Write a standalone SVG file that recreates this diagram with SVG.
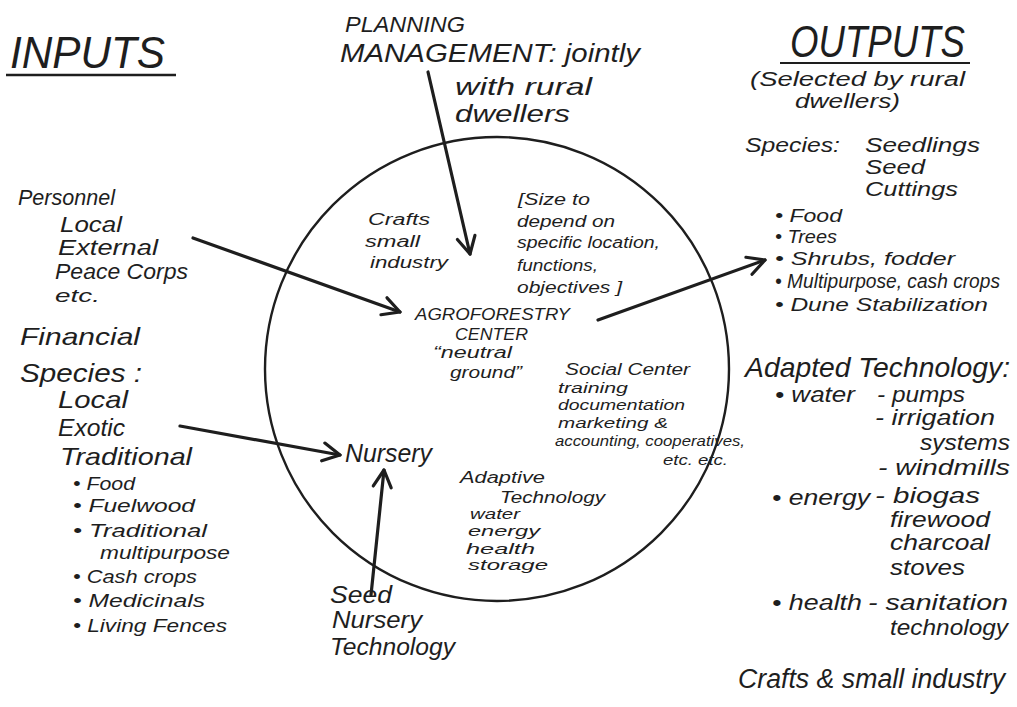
<svg xmlns="http://www.w3.org/2000/svg" width="1017" height="707" viewBox="0 0 1017 707">
<style>
text{font-family:"Liberation Sans","DejaVu Sans",sans-serif;font-style:italic;fill:#1e1e1e}
.h{font-size:44px}
.l{font-size:22px}
.r{font-size:20px}
.m{font-size:18px}
.s{font-size:16px}
.xs{font-size:14.5px}
.ln{stroke:#1e1e1e;stroke-width:3.2;fill:none;stroke-linecap:round}
</style>
<defs>
<marker id="ah" markerUnits="userSpaceOnUse" markerWidth="26" markerHeight="26" refX="20" refY="11" orient="auto">
<path d="M3,2 L20,11 L3,20" fill="none" stroke="#1e1e1e" stroke-width="3.2" stroke-linecap="round" stroke-linejoin="round"/>
</marker>
</defs>
<rect width="1017" height="707" fill="#fff"/>
<g id="center-circle">
<circle cx="497" cy="369" r="232" fill="none" stroke="#1e1e1e" stroke-width="2.4"/>
</g>
<g id="connectors">
<line class="ln" x1="428" y1="72" x2="470" y2="254" marker-end="url(#ah)"/>
<line class="ln" x1="193" y1="238" x2="400" y2="312" marker-end="url(#ah)"/>
<line class="ln" x1="598" y1="320" x2="765" y2="260" marker-end="url(#ah)"/>
<line class="ln" x1="180" y1="426" x2="340" y2="455" marker-end="url(#ah)"/>
<line class="ln" x1="371" y1="595" x2="384" y2="470" marker-end="url(#ah)"/>
</g>
<g id="inputs">
<text class="h" x="10" y="68" textLength="155" lengthAdjust="spacingAndGlyphs">INPUTS</text>
<line x1="6" y1="75" x2="176" y2="75" stroke="#1e1e1e" stroke-width="2.5"/>
<text class="l" x="18" y="205" textLength="97" lengthAdjust="spacingAndGlyphs">Personnel</text>
<text class="l" x="60" y="232" textLength="62" lengthAdjust="spacingAndGlyphs">Local</text>
<text class="l" x="58" y="255" textLength="100" lengthAdjust="spacingAndGlyphs">External</text>
<text class="l" x="55" y="279" textLength="133" lengthAdjust="spacingAndGlyphs">Peace Corps</text>
<text class="m" x="55" y="302" textLength="45" lengthAdjust="spacingAndGlyphs">etc.</text>
<text class="l" x="20" y="345" textLength="120" lengthAdjust="spacingAndGlyphs" style="font-size:24px">Financial</text>
<text class="l" x="20" y="382" textLength="122" lengthAdjust="spacingAndGlyphs" style="font-size:26px">Species :</text>
<text class="l" x="58" y="408" textLength="70" lengthAdjust="spacingAndGlyphs" style="font-size:24px">Local</text>
<text class="l" x="58" y="436" textLength="67" lengthAdjust="spacingAndGlyphs" style="font-size:24px">Exotic</text>
<text class="l" x="60" y="465" textLength="132" lengthAdjust="spacingAndGlyphs" style="font-size:24px">Traditional</text>
<text class="m" x="73" y="490" textLength="62" lengthAdjust="spacingAndGlyphs">• Food</text>
<text class="m" x="73" y="512" textLength="122" lengthAdjust="spacingAndGlyphs">• Fuelwood</text>
<text class="m" x="73" y="537" textLength="134" lengthAdjust="spacingAndGlyphs">• Traditional</text>
<text class="m" x="100" y="559" textLength="130" lengthAdjust="spacingAndGlyphs">multipurpose</text>
<text class="m" x="73" y="583" textLength="124" lengthAdjust="spacingAndGlyphs">• Cash crops</text>
<text class="m" x="73" y="607" textLength="132" lengthAdjust="spacingAndGlyphs">• Medicinals</text>
<text class="m" x="73" y="632" textLength="154" lengthAdjust="spacingAndGlyphs">• Living Fences</text>
</g>
<g id="planning">
<text class="l" x="345" y="32" textLength="120" lengthAdjust="spacingAndGlyphs">PLANNING</text>
<text class="l" x="340" y="62" textLength="300" lengthAdjust="spacingAndGlyphs" style="font-size:25px">MANAGEMENT: jointly</text>
<text class="l" x="455" y="95" textLength="137" lengthAdjust="spacingAndGlyphs" style="font-size:24px">with rural</text>
<text class="l" x="455" y="122" textLength="115" lengthAdjust="spacingAndGlyphs" style="font-size:24px">dwellers</text>
</g>
<g id="agroforestry-center">
<text class="s" x="368" y="225" textLength="62" lengthAdjust="spacingAndGlyphs">Crafts</text>
<text class="s" x="365" y="247" textLength="55" lengthAdjust="spacingAndGlyphs">small</text>
<text class="s" x="370" y="268" textLength="78" lengthAdjust="spacingAndGlyphs">industry</text>
<text class="s" x="518" y="205" textLength="72" lengthAdjust="spacingAndGlyphs">[Size to</text>
<text class="s" x="517" y="227" textLength="98" lengthAdjust="spacingAndGlyphs">depend on</text>
<text class="s" x="517" y="248" textLength="143" lengthAdjust="spacingAndGlyphs">specific location,</text>
<text class="s" x="517" y="271" textLength="81" lengthAdjust="spacingAndGlyphs">functions,</text>
<text class="s" x="517" y="293" textLength="105" lengthAdjust="spacingAndGlyphs">objectives ]</text>
<text class="s" x="415" y="320" textLength="155" lengthAdjust="spacingAndGlyphs">AGROFORESTRY</text>
<text class="s" x="455" y="340" textLength="73" lengthAdjust="spacingAndGlyphs">CENTER</text>
<text class="s" x="433" y="358" textLength="79" lengthAdjust="spacingAndGlyphs">“neutral</text>
<text class="s" x="450" y="378" textLength="72" lengthAdjust="spacingAndGlyphs">ground”</text>
</g>
<g id="social-center">
<text class="s" x="565" y="375" textLength="125" lengthAdjust="spacingAndGlyphs">Social Center</text>
<text class="xs" x="558" y="393" textLength="70" lengthAdjust="spacingAndGlyphs">training</text>
<text class="xs" x="558" y="410" textLength="127" lengthAdjust="spacingAndGlyphs">documentation</text>
<text class="xs" x="558" y="428" textLength="110" lengthAdjust="spacingAndGlyphs">marketing &amp;</text>
<text class="xs" x="555" y="446" textLength="190" lengthAdjust="spacingAndGlyphs">accounting, cooperatives,</text>
<text class="xs" x="663" y="465" textLength="65" lengthAdjust="spacingAndGlyphs">etc. etc.</text>
</g>
<g id="nursery">
<text x="345" y="462" style="font-size:26px" textLength="87" lengthAdjust="spacingAndGlyphs">Nursery</text>
</g>
<g id="adaptive-technology">
<text class="s" x="460" y="483" textLength="85" lengthAdjust="spacingAndGlyphs">Adaptive</text>
<text class="s" x="500" y="503" textLength="105" lengthAdjust="spacingAndGlyphs">Technology</text>
<text class="xs" x="470" y="519" textLength="50" lengthAdjust="spacingAndGlyphs">water</text>
<text class="xs" x="468" y="536" textLength="72" lengthAdjust="spacingAndGlyphs">energy</text>
<text class="xs" x="466" y="554" textLength="69" lengthAdjust="spacingAndGlyphs">health</text>
<text class="xs" x="468" y="570" textLength="80" lengthAdjust="spacingAndGlyphs">storage</text>
</g>
<g id="seed-nursery-technology">
<text class="l" x="330" y="603" textLength="62" lengthAdjust="spacingAndGlyphs" style="font-size:24px">Seed</text>
<text class="l" x="332" y="628" textLength="90" lengthAdjust="spacingAndGlyphs" style="font-size:24px">Nursery</text>
<text class="l" x="330" y="655" textLength="125" lengthAdjust="spacingAndGlyphs" style="font-size:24px">Technology</text>
</g>
<g id="outputs">
<text class="h" x="790" y="57" textLength="175" lengthAdjust="spacingAndGlyphs">OUTPUTS</text>
<line x1="780" y1="63" x2="970" y2="63" stroke="#1e1e1e" stroke-width="2"/>
<text class="r" x="750" y="86" textLength="215" lengthAdjust="spacingAndGlyphs">(Selected by rural</text>
<text class="r" x="795" y="108" textLength="105" lengthAdjust="spacingAndGlyphs">dwellers)</text>
<text class="r" x="745" y="152" textLength="95" lengthAdjust="spacingAndGlyphs">Species:</text>
<text class="r" x="865" y="152" textLength="115" lengthAdjust="spacingAndGlyphs">Seedlings</text>
<text class="r" x="865" y="174" textLength="60" lengthAdjust="spacingAndGlyphs">Seed</text>
<text class="r" x="865" y="196" textLength="93" lengthAdjust="spacingAndGlyphs">Cuttings</text>
<text class="m" x="775" y="222" textLength="67" lengthAdjust="spacingAndGlyphs">• Food</text>
<text class="m" x="775" y="243" textLength="62" lengthAdjust="spacingAndGlyphs">• Trees</text>
<text class="m" x="775" y="265" textLength="180" lengthAdjust="spacingAndGlyphs">• Shrubs, fodder</text>
<text class="m" x="775" y="288" textLength="225" lengthAdjust="spacingAndGlyphs" style="font-size:20px">• Multipurpose, cash crops</text>
<text class="m" x="775" y="311" textLength="213" lengthAdjust="spacingAndGlyphs">• Dune Stabilization</text>
<text x="745" y="377" style="font-size:28px" textLength="265" lengthAdjust="spacingAndGlyphs">Adapted Technology:</text>
<text class="l" x="775" y="402" textLength="80" lengthAdjust="spacingAndGlyphs">• water</text>
<text class="l" x="877" y="402" textLength="88" lengthAdjust="spacingAndGlyphs">- pumps</text>
<text class="l" x="875" y="425" textLength="120" lengthAdjust="spacingAndGlyphs">- irrigation</text>
<text class="l" x="920" y="450" textLength="90" lengthAdjust="spacingAndGlyphs">systems</text>
<text class="l" x="878" y="475" textLength="132" lengthAdjust="spacingAndGlyphs">- windmills</text>
<text class="l" x="772" y="505" textLength="98" lengthAdjust="spacingAndGlyphs">• energy</text>
<text class="l" x="875" y="503" textLength="105" lengthAdjust="spacingAndGlyphs">- biogas</text>
<text class="l" x="890" y="527" textLength="100" lengthAdjust="spacingAndGlyphs">firewood</text>
<text class="l" x="890" y="550" textLength="100" lengthAdjust="spacingAndGlyphs">charcoal</text>
<text class="l" x="890" y="575" textLength="75" lengthAdjust="spacingAndGlyphs">stoves</text>
<text class="l" x="772" y="610" textLength="90" lengthAdjust="spacingAndGlyphs">• health</text>
<text class="l" x="868" y="610" textLength="140" lengthAdjust="spacingAndGlyphs">- sanitation</text>
<text class="l" x="890" y="635" textLength="118" lengthAdjust="spacingAndGlyphs">technology</text>
<text x="738" y="688" style="font-size:27px" textLength="267" lengthAdjust="spacingAndGlyphs">Crafts &amp; small industry</text>
</g>
</svg>
